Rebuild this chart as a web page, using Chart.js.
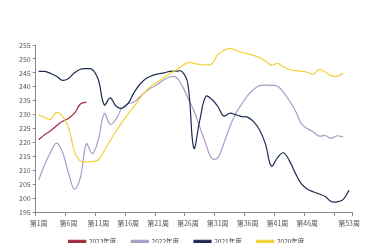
<!DOCTYPE html>
<html>
<head>
<meta charset="utf-8">
<script src="https://cdn.jsdelivr.net/npm/chart.js@4/dist/chart.umd.min.js"></script>
<style>
  html, body { margin: 0; padding: 0; background: #fff; overflow: hidden; }
  #wrap { width: 383px; height: 262px; }
</style>
</head>
<body>
<div id="wrap"><canvas id="chart" width="383" height="262"></canvas></div>
<script>
const weeks = Array.from({ length: 53 }, (_, i) => `第${i + 1}周`);
const labelWeeks = [1, 6, 11, 16, 21, 26, 31, 36, 41, 46, 53];

const y2023 = [221, 222.8, 224.2, 226, 227.6, 228.6, 230.5, 233.8, 234.5];
const y2022 = [206.5, 212, 216.5, 219.8, 216.5, 209, 203.3, 207.5, 219.5, 216,
  221, 230.4, 226.5, 228.5, 232.5, 234, 234.5, 236.5, 238.3, 239.8,
  241, 242.5, 243.5, 243.5, 240.5, 236, 231.5, 225.5, 219.5, 214.3,
  214.5, 219.5, 225.5, 230.3, 233.7, 236.8, 239, 240.4, 240.6, 240.5,
  240.2, 238.1, 235, 231.5, 226.8, 225, 223.8, 222.3, 222.5, 221.5,
  222.4, 222];
const y2021 = [245.5, 245.5, 244.8, 243.8, 242.3, 243, 245, 246.3, 246.5, 246.2,
  242.5, 233.5, 236, 233, 232.3, 234, 238, 241, 243, 244,
  244.6, 245, 245.5, 245.6, 245.5, 241, 218, 228, 236.5, 235.5,
  233, 229.5, 230.5, 230, 229.3, 229.1, 227.5, 224.6, 219.5, 211.5,
  214.5, 216.3, 213.5, 209, 205.2, 203.3, 202.3, 201.5, 200.6, 198.8,
  198.7, 199.5, 202.8];
const y2020 = [230, 229, 228.3, 230.8, 229.4, 225.5, 216.8, 213.3, 213, 213.2,
  213.8, 217, 220.7, 224.2, 227.4, 230.3, 233, 236, 238.5, 240.6,
  241.8, 243.3, 244.8, 245.9, 247.5, 248.7, 248.4, 248, 247.9, 248.2,
  251.5, 253, 253.8, 253.2, 252.3, 251.8, 251.3, 250.5, 249.3, 247.7,
  248.4, 247.2, 246.2, 245.8, 245.6, 245.2, 244.5, 246.2, 245.3, 244,
  243.8, 244.9];

const seriesNames = ["2023年度", "2022年度", "2021年度", "2020年度"];
const seriesColors = ["#a3283c", "#a99cc9", "#1c2b4f", "#f2d23a"];
const seriesData = [y2023, y2022, y2021, y2020];

const axisColor = "#8a8a8a";
const font = { family: "'Noto Sans CJK SC', 'Noto Sans', sans-serif", size: 7 };

// legend sits a little closer to the axis labels than Chart.js puts it
const legendNudge = {
  id: "legendNudge",
  afterLayout(chart) {
    chart.legend.top -= 7;
    chart.legend.bottom -= 7;
    chart.legend.left += 2;
    chart.legend.right += 2;
  }
};

new Chart(document.getElementById("chart"), {
  type: "line",
  data: {
    labels: weeks,
    datasets: seriesData.map((d, i) => ({
      label: seriesNames[i],
      data: d,
      borderColor: seriesColors[i],
      backgroundColor: seriesColors[i],
      borderWidth: 1.2,
      pointRadius: 0,
      tension: 0.4,
      fill: false
    })).reverse()
  },
  options: {
    responsive: false,
    animation: false,
    layout: { padding: { left: 17, right: 31, top: 45, bottom: 0 } },
    plugins: {
      tooltip: { enabled: false },
      legend: {
        position: "bottom",
        reverse: true,
        labels: {
          boxWidth: 17,
          boxHeight: 3,
          padding: 15,
          color: "#444",
          font: { family: font.family, size: 6.5 }
        }
      }
    },
    scales: {
      x: {
        type: "category",
        offset: true,
        border: { color: axisColor, width: 1 },
        grid: {
          offset: true,
          drawOnChartArea: false,
          drawTicks: true,
          tickLength: 4,
          tickColor: (ctx) => (ctx.index === undefined || ctx.index % 5 === 0) ? axisColor : "transparent"
        },
        ticks: {
          autoSkip: false,
          maxRotation: 0,
          padding: 3,
          color: "#555",
          font: font,
          callback: (v, i) => labelWeeks.includes(i + 1) ? weeks[i] : ""
        }
      },
      y: {
        min: 195,
        max: 255,
        border: { color: axisColor, width: 1 },
        grid: { drawOnChartArea: false, drawTicks: true, tickLength: 3, color: axisColor },
        ticks: { stepSize: 5, padding: 2, color: "#555", font: font }
      }
    }
  },
  plugins: [legendNudge]
});
</script>
</body>
</html>
